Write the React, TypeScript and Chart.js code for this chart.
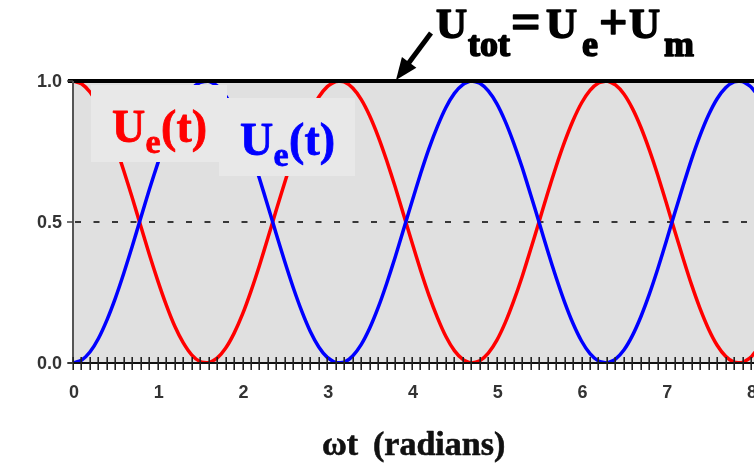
import React, { useEffect, useRef } from "react";
import { Chart, registerables } from "chart.js";

Chart.register(...registerables);

// omega*t sample positions (radians)
const tValues = [
  0.0, 0.1, 0.2, 0.3, 0.4, 0.5, 0.6, 0.7, 0.8, 0.9,
  1.0, 1.1, 1.2, 1.3, 1.4, 1.5, 1.6, 1.7, 1.8, 1.9,
  2.0, 2.1, 2.2, 2.3, 2.4, 2.5, 2.6, 2.7, 2.8, 2.9,
  3.0, 3.1, 3.2, 3.3, 3.4, 3.5, 3.6, 3.7, 3.8, 3.9,
  4.0, 4.1, 4.2, 4.3, 4.4, 4.5, 4.6, 4.7, 4.8, 4.9,
  5.0, 5.1, 5.2, 5.3, 5.4, 5.5, 5.6, 5.7, 5.8, 5.9,
  6.0, 6.1, 6.2, 6.3, 6.4, 6.5, 6.6, 6.7, 6.8, 6.9,
  7.0, 7.1, 7.2, 7.3, 7.4, 7.5, 7.6, 7.7, 7.8, 7.9,
  8.0, 8.1,
];

// red curve
const ueRed = [
  1.000, 0.990, 0.961, 0.913, 0.848, 0.770, 0.681, 0.585, 0.485, 0.386,
  0.292, 0.206, 0.131, 0.072, 0.029, 0.005, 0.001, 0.017, 0.052, 0.105,
  0.173, 0.255, 0.346, 0.444, 0.544, 0.642, 0.734, 0.817, 0.888, 0.943,
  0.980, 0.998, 0.997, 0.975, 0.935, 0.877, 0.804, 0.719, 0.626, 0.527,
  0.427, 0.330, 0.240, 0.161, 0.094, 0.044, 0.013, 0.000, 0.008, 0.035,
  0.080, 0.143, 0.220, 0.307, 0.403, 0.502, 0.602, 0.697, 0.784, 0.860,
  0.922, 0.967, 0.993, 1.000, 0.986, 0.954, 0.903, 0.836, 0.756, 0.666,
  0.568, 0.468, 0.370, 0.276, 0.192, 0.120, 0.063, 0.024, 0.003, 0.002,
  0.021, 0.059,
];

// blue curve
const ueBlue = [
  0.000, 0.010, 0.039, 0.087, 0.152, 0.230, 0.319, 0.415, 0.515, 0.614,
  0.708, 0.794, 0.869, 0.928, 0.971, 0.995, 0.999, 0.983, 0.948, 0.895,
  0.827, 0.745, 0.654, 0.556, 0.456, 0.358, 0.266, 0.183, 0.112, 0.057,
  0.020, 0.002, 0.003, 0.025, 0.065, 0.123, 0.196, 0.281, 0.374, 0.473,
  0.573, 0.670, 0.760, 0.839, 0.906, 0.956, 0.987, 1.000, 0.992, 0.965,
  0.920, 0.857, 0.780, 0.693, 0.597, 0.498, 0.398, 0.303, 0.216, 0.140,
  0.078, 0.033, 0.007, 0.000, 0.014, 0.046, 0.097, 0.164, 0.244, 0.334,
  0.432, 0.532, 0.630, 0.724, 0.808, 0.880, 0.937, 0.976, 0.997, 0.998,
  0.979, 0.941,
];

// total energy line and half-level reference
const totalX = [-0.06, 8.1];
const totalY = [1.0, 1.0];
const halfX = [0.0, 8.1];
const halfY = [0.5, 0.5];

const xTickLabels = ["0", "1", "2", "3", "4", "5", "6", "7", "8"];
const xTickValues = [0, 1, 2, 3, 4, 5, 6, 7, 8];
const yTickLabels = ["0.0", "0.5", "1.0"];
const yTickValues = [0, 0.5, 1.0];
const xMinorStep = 0.1;
const X_MIN = 0;
const X_MAX = 8.035;

const SERIF = '"Liberation Serif", "Times New Roman", serif';
const SANS = '"Liberation Sans", Arial, sans-serif';

type Part = { text: string; size: number; dy: number; x?: number };

function drawParts(
  ctx: CanvasRenderingContext2D,
  x: number,
  baseline: number,
  parts: Part[],
  color: string,
  weight: number
) {
  let cx = x;
  ctx.fillStyle = color;
  ctx.strokeStyle = color;
  ctx.lineWidth = weight;
  ctx.lineJoin = "round";
  ctx.textAlign = "left";
  ctx.textBaseline = "alphabetic";
  for (const p of parts) {
    ctx.font = `bold ${p.size}px ${SERIF}`;
    const px = p.x !== undefined ? p.x : cx;
    ctx.fillText(p.text, px, baseline + p.dy);
    if (weight > 0) ctx.strokeText(p.text, px, baseline + p.dy);
    cx = px + ctx.measureText(p.text).width + weight * 0.5;
  }
}

const decorPlugin = {
  id: "decor",
  beforeDatasetsDraw(chart: any) {
    const { ctx, chartArea } = chart;
    ctx.save();
    ctx.fillStyle = "#e0e0e0";
    ctx.fillRect(
      chartArea.left,
      chartArea.top,
      chartArea.right - chartArea.left,
      chartArea.bottom - chartArea.top
    );
    ctx.restore();
  },
  afterDatasetsDraw(chart: any) {
    const { ctx, chartArea } = chart;
    const xs = chart.scales.x;
    const ys = chart.scales.y;
    ctx.save();

    // legend boxes
    ctx.fillStyle = "#e8e8e8";
    ctx.fillRect(91, 85, 136, 77);
    ctx.fillRect(219, 98, 136, 78);
    drawParts(
      ctx,
      112,
      142,
      [
        { text: "U", size: 46, dy: 0 },
        { text: "e", size: 34, dy: 11 },
        { text: "(t)", size: 46, dy: 0 },
      ],
      "#ff0000",
      0.8
    );
    drawParts(
      ctx,
      240,
      155,
      [
        { text: "U", size: 46, dy: 0 },
        { text: "e", size: 34, dy: 11 },
        { text: "(t)", size: 46, dy: 0 },
      ],
      "#0000ff",
      0.8
    );

    // axes
    const y0 = ys.getPixelForValue(0);
    const y1 = ys.getPixelForValue(1);
    const x0 = xs.getPixelForValue(0);
    ctx.strokeStyle = "#555555";
    ctx.lineWidth = 2;
    ctx.beginPath();
    ctx.moveTo(x0, y1);
    ctx.lineTo(x0, y0);
    ctx.stroke();

    ctx.strokeStyle = "#111111";
    ctx.lineWidth = 2;
    ctx.beginPath();
    ctx.moveTo(x0 - 5, y0);
    ctx.lineTo(chartArea.right, y0);
    ctx.stroke();

    // minor ticks
    ctx.lineWidth = 1.6;
    ctx.strokeStyle = "#222222";
    const nMinor = Math.round(8 / xMinorStep);
    for (let i = 0; i <= nMinor; i++) {
      const px = Math.round(xs.getPixelForValue(i * xMinorStep)) + 0.2;
      ctx.beginPath();
      ctx.moveTo(px, y0 - 6);
      ctx.lineTo(px, y0 + 7);
      ctx.stroke();
    }

    // y ticks and labels
    ctx.strokeStyle = "#444444";
    ctx.lineWidth = 1.5;
    ctx.fillStyle = "#333333";
    ctx.font = `bold 18px ${SANS}`;
    ctx.textAlign = "right";
    ctx.textBaseline = "middle";
    yTickValues.forEach((v, i) => {
      const py = ys.getPixelForValue(v);
      ctx.beginPath();
      ctx.moveTo(x0 - 6, py);
      ctx.lineTo(x0, py);
      ctx.stroke();
      ctx.fillText(yTickLabels[i], x0 - 11, py + 1);
    });

    // x labels
    ctx.textAlign = "center";
    ctx.textBaseline = "middle";
    xTickValues.forEach((v, i) => {
      const px = xs.getPixelForValue(v);
      ctx.fillText(xTickLabels[i], px + 1, 393);
    });

    // axis title
    ctx.fillStyle = "#111111";
    ctx.strokeStyle = "#111111";
    ctx.lineWidth = 0.6;
    ctx.textAlign = "left";
    ctx.textBaseline = "alphabetic";
    ctx.font = `bold 34px ${SERIF}`;
    ctx.fillText("ωt", 322, 455);
    ctx.strokeText("ωt", 322, 455);
    ctx.fillText("(radians)", 373, 455);
    ctx.strokeText("(radians)", 373, 455);

    // annotation
    drawParts(
      ctx,
      437,
      38,
      [
        { text: "U", size: 43, dy: 0, x: 436 },
        { text: "tot", size: 36, dy: 18, x: 468 },
        { text: "=", size: 52, dy: 1, x: 511 },
        { text: "U", size: 43, dy: 0, x: 546 },
        { text: "e", size: 36, dy: 18, x: 582 },
        { text: "+", size: 50, dy: 1, x: 599 },
        { text: "U", size: 43, dy: 0, x: 629 },
        { text: "m", size: 36, dy: 18, x: 664 },
      ],
      "#000000",
      1.6
    );

    // arrow
    const sx = 431, sy = 33, tx = 396, ty = 80;
    const dx = tx - sx, dy = ty - sy;
    const len = Math.hypot(dx, dy);
    const ux = dx / len, uy = dy / len;
    const headLen = 22, headHalf = 9;
    const bx = tx - ux * headLen, by = ty - uy * headLen;
    ctx.strokeStyle = "#000000";
    ctx.lineWidth = 5;
    ctx.beginPath();
    ctx.moveTo(sx, sy);
    ctx.lineTo(bx + ux * 2, by + uy * 2);
    ctx.stroke();
    ctx.fillStyle = "#000000";
    ctx.beginPath();
    ctx.moveTo(tx, ty);
    ctx.lineTo(bx - uy * headHalf, by + ux * headHalf);
    ctx.lineTo(bx + uy * headHalf, by - ux * headHalf);
    ctx.closePath();
    ctx.fill();

    ctx.restore();
  },
};

export default function App() {
  const canvasRef = useRef<HTMLCanvasElement | null>(null);

  useEffect(() => {
    if (!canvasRef.current) return;
    const toPoints = (xs: number[], ys: number[]) =>
      xs.map((x, i) => ({ x, y: ys[i] }));
    const chart = new Chart(canvasRef.current, {
      type: "line",
      data: {
        datasets: [
          {
            label: "Utot",
            data: toPoints(totalX, totalY),
            borderColor: "#000000",
            borderWidth: 4,
            pointRadius: 0,
            order: 0,
            clip: false as any,
          },
          {
            label: "Ue blue",
            data: toPoints(tValues, ueBlue),
            borderColor: "#0000ff",
            borderWidth: 3.5,
            pointRadius: 0,
            tension: 0.2,
            order: 1,
          },
          {
            label: "Ue red",
            data: toPoints(tValues, ueRed),
            borderColor: "#ff0000",
            borderWidth: 3.5,
            pointRadius: 0,
            tension: 0.2,
            order: 2,
          },
          {
            label: "half",
            data: toPoints(halfX, halfY),
            borderColor: "#000000",
            borderWidth: 1.6,
            borderDash: [6, 12.5],
            borderDashOffset: -2,
            pointRadius: 0,
            order: 3,
          },
        ],
      },
      options: {
        responsive: false,
        animation: false,
        parsing: true,
        layout: { padding: { left: 73, right: 0, top: 81, bottom: 103 } },
        scales: {
          x: { type: "linear", min: X_MIN, max: X_MAX, display: false },
          y: { type: "linear", min: 0, max: 1, display: false },
        },
        plugins: {
          legend: { display: false },
          tooltip: { enabled: false },
        },
        events: [],
      },
      plugins: [decorPlugin],
    });
    return () => chart.destroy();
  }, []);

  return (
    <div style={{ position: "absolute", left: 0, top: 0, width: 754, height: 466, background: "#ffffff" }}>
      <canvas ref={canvasRef} width={754} height={466} style={{ display: "block" }} />
    </div>
  );
}
